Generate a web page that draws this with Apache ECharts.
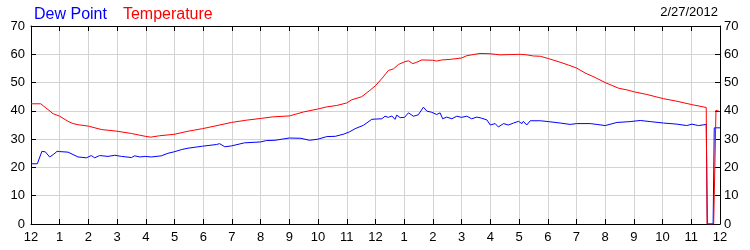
<!DOCTYPE html>
<html>
<head>
<meta charset="utf-8">
<script src="https://cdn.jsdelivr.net/npm/echarts@6/dist/echarts.min.js"></script>
<style>
html,body{margin:0;padding:0;background:#fff;}
#chart{width:750px;height:250px;}
</style>
</head>
<body>
<div id="chart"></div>
<script>
var dateText = '2/27/2012';
var seriesNames = ['Dew Point', 'Temperature'];
var hourLabels = ['12','1','2','3','4','5','6','7','8','9','10','11','12','1','2','3','4','5','6','7','8','9','10','11','12'];

var dewHours = [0,0.22,0.38,0.50,0.65,0.77,0.91,1.0,1.29,1.64,1.93,2.10,2.22,2.39,2.68,2.92,3.15,3.50,3.61,3.79,3.98,4.19,4.54,4.77,4.98,5.24,5.47,5.97,6.46,6.57,6.75,6.98,7.44,7.99,8.2,
  8.5,9.0,9.4,9.7,10.0,10.3,10.6,10.9,11.1,11.29,11.58,11.87,12.01,12.22,12.33,12.45,12.57,12.68,12.74,12.86,13.01,13.15,13.32,13.49,13.67,13.79,13.96,14.13,14.25,14.34,14.48,14.66,14.83,15.0,15.18,15.35,15.53,15.70,15.88,16.0,
  16.17,16.28,16.46,16.63,16.81,16.98,17.10,17.15,17.27,17.39,17.74,18.02,18.43,18.78,19.01,19.48,19.71,20.0,20.41,20.87,21.22,21.57,22.03,22.5,22.84,23.02,23.25,23.52,23.56,23.76,23.80,24.0];
var dewValues = [21.3,21.3,25.7,25.5,23.7,24.5,25.7,25.6,25.4,23.7,23.4,24.2,23.4,24.2,23.9,24.3,23.9,23.5,24.1,23.7,23.9,23.7,24.1,25.0,25.5,26.3,26.8,27.5,28.1,28.4,27.3,27.6,28.7,29.0,29.5,
  29.6,30.4,30.3,29.6,30.0,30.9,31.0,31.8,32.6,33.7,34.9,37.0,37.1,37.2,38.1,37.7,38.2,37.0,38.5,37.6,37.7,39.3,38.1,38.6,41.3,39.9,39.5,38.7,39.3,37.2,37.8,37.2,38.1,37.7,38.1,37.2,37.8,37.4,36.8,35.0,
  35.5,34.3,35.5,35.0,35.7,36.3,35.5,36.3,35.0,36.5,36.5,36.2,35.7,35.2,35.5,35.5,35.2,34.8,35.9,36.2,36.6,36.2,35.7,35.3,34.8,35.3,34.8,35.2,0,0,34.0,34.0];

var tempHours = [0,0.34,0.77,1.0,1.29,1.46,1.65,2.0,2.45,3.0,3.5,3.98,4.17,4.48,4.98,5.47,5.97,6.48,6.98,7.5,7.99,8.44,9.0,9.49,10.01,10.3,10.65,11.0,11.17,11.52,11.81,12.01,12.27,12.45,12.62,12.80,13.03,13.15,13.30,13.44,13.61,13.99,14.13,14.31,14.60,15.0,15.18,15.64,15.99,16.34,16.69,17.04,17.27,17.5,17.74,18.02,18.43,18.72,19.01,19.30,19.65,20.02,20.47,20.76,21.02,21.45,22.03,22.5,23.02,23.52,23.55,23.78,23.86,24.0];
var tempValues = [42.5,42.5,39.0,38.1,36.3,35.5,35.1,34.6,33.4,32.8,32.0,31.0,30.7,31.2,31.7,32.8,33.7,34.8,35.9,36.7,37.3,37.9,38.2,39.6,40.7,41.4,41.9,42.8,43.9,45.0,47.3,49.0,52.0,54.3,54.8,56.4,57.4,57.7,56.7,57.2,58.0,57.9,57.6,58.0,58.2,58.7,59.5,60.3,60.2,59.8,59.9,60.0,59.8,59.4,59.3,58.5,57.2,56.2,55.1,53.4,51.8,49.9,48.0,47.4,46.7,45.8,44.3,43.4,42.2,41.2,0,0,40.2,39.7];

function pairs(xs, ys){ return xs.map(function(x,i){ return [x, ys[i]]; }); }

var FONT = '"Liberation Sans", Arial, sans-serif';
var gridColor = '#d3d3d3';

var chart = echarts.init(document.getElementById('chart'), null, {renderer:'canvas'});
chart.setOption({
  animation: false,
  backgroundColor: '#ffffff',
  textStyle: {fontFamily: FONT},
  title: {
    text: dateText, right: 32, top: 6, padding: 0,
    textStyle: {fontSize: 13, fontWeight: 'normal', color: '#000', fontFamily: FONT}
  },
  legend: {
    left: 24, top: 2, icon: 'none', itemWidth: 0, itemHeight: 10, itemGap: 11,
    textStyle: {fontSize: 16, fontFamily: FONT},
    data: [
      {name: seriesNames[0], textStyle: {color: '#0000ff'}},
      {name: seriesNames[1], textStyle: {color: '#ff0000'}}
    ]
  },
  grid: {left: 31, right: 30, top: 26, bottom: 26, containLabel: false},
  xAxis: [
    {
      type: 'value', min: 0, max: 24, interval: 1, position: 'bottom',
      axisLine: {show: true, onZero: false, lineStyle: {color: '#000', width: 1}},
      axisTick: {show: true, inside: true, length: 5, lineStyle: {color: '#000'}},
      axisLabel: {color: '#000', fontSize: 13, margin: 7, fontFamily: FONT,
        formatter: function(v){ return hourLabels[Math.round(v)]; }},
      splitLine: {show: true, lineStyle: {color: gridColor, width: 1}}
    },
    {
      type: 'value', min: 0, max: 24, interval: 1, position: 'top',
      axisLine: {show: true, onZero: false, lineStyle: {color: '#000', width: 1}},
      axisTick: {show: true, inside: true, length: 5, lineStyle: {color: '#000'}},
      axisLabel: {show: false},
      splitLine: {show: false}
    }
  ],
  yAxis: [
    {
      type: 'value', min: 0, max: 70, interval: 10, position: 'left',
      axisLine: {show: true, onZero: false, lineStyle: {color: '#000', width: 1}},
      axisTick: {show: true, inside: true, length: 5, lineStyle: {color: '#000'}},
      axisLabel: {color: '#000', fontSize: 13, margin: 6, fontFamily: FONT},
      splitLine: {show: true, lineStyle: {color: gridColor, width: 1}}
    },
    {
      type: 'value', min: 0, max: 70, interval: 10, position: 'right',
      axisLine: {show: true, onZero: false, lineStyle: {color: '#000', width: 1}},
      axisTick: {show: true, inside: true, length: 5, lineStyle: {color: '#000'}},
      axisLabel: {color: '#000', fontSize: 13, margin: 4, fontFamily: FONT},
      splitLine: {show: false}
    }
  ],
  series: [
    {
      name: seriesNames[0], type: 'line', xAxisIndex: 0, yAxisIndex: 0,
      data: pairs(dewHours, dewValues), showSymbol: false, symbol: 'none',
      lineStyle: {color: '#0000ff', width: 1}, itemStyle: {color: '#0000ff'}, z: 2
    },
    {
      name: seriesNames[1], type: 'line', xAxisIndex: 0, yAxisIndex: 0,
      data: pairs(tempHours, tempValues), showSymbol: false, symbol: 'none',
      lineStyle: {color: '#ff0000', width: 1}, itemStyle: {color: '#ff0000'}, z: 3
    }
  ]
});
</script>
</body>
</html>
